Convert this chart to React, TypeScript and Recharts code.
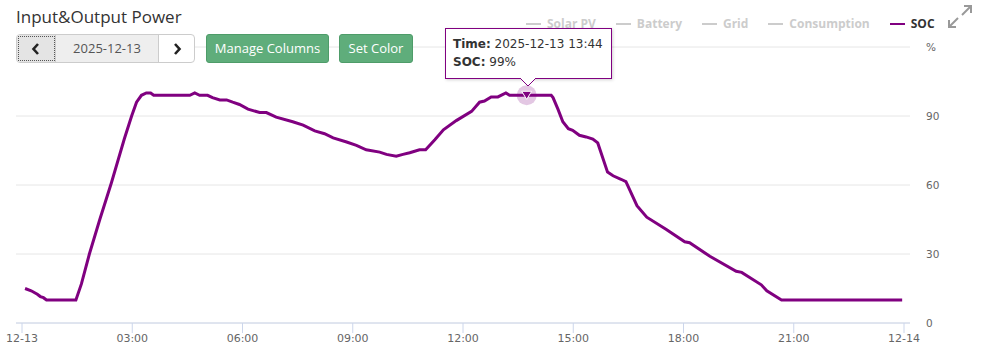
import React from 'react';
import { LineChart, Line, XAxis, YAxis, CartesianGrid, Tooltip, Legend } from 'recharts';

// SOC readings for the day (time -> %)
const times = [
  '00:05', '00:15', '00:25', '00:30', '00:35', '00:40', '01:28', '01:37', '01:50', '02:07',
  '02:26', '02:47', '02:59', '03:07', '03:15', '03:23', '03:30', '03:35', '04:34', '04:42',
  '04:50', '05:03', '05:11', '05:23', '05:34', '05:44', '05:55', '06:09', '06:28', '06:39',
  '06:55', '07:22', '07:39', '07:58', '08:14', '08:28', '08:50', '09:06', '09:22', '09:44',
  '09:55', '10:11', '10:22', '10:33', '10:49', '10:59', '11:14', '11:28', '11:49', '12:14',
  '12:27', '12:35', '12:46', '12:57', '13:10', '13:16', '13:44', '14:24', '14:27', '14:35',
  '14:43', '14:52', '14:59', '15:10', '15:21', '15:32', '15:40', '15:56', '16:05', '16:18',
  '16:26', '16:44', '17:00', '17:32', '18:02', '18:10', '18:43', '19:26', '19:35', '20:07',
  '20:16', '20:40', '23:57',
];
const socValues = [
  15, 14, 12.5, 11.5, 11, 10, 10, 17, 30, 45,
  61, 80, 90, 96, 99, 100, 100, 99, 99, 100,
  99, 99, 98, 97, 97, 96, 95, 93, 91.5, 91.5,
  89.5, 87.5, 86, 83.5, 82.3, 80.5, 78.7, 77.2, 75.3, 74.3,
  73.3, 72.5, 73.3, 74, 75.3, 75.3, 79.7, 84, 88, 92,
  96, 96.5, 98.3, 98.3, 100, 99, 99, 99, 98, 93,
  87.5, 84.5, 83.8, 81.6, 80.9, 80, 78.3, 65.6, 64, 62.5,
  61.5, 51, 46, 40.7, 35.3, 34.9, 29, 22.5, 22, 16.6,
  14, 10, 10,
];

const xTicks = [0, 3, 6, 9, 12, 15, 18, 21, 24];
const yTicks = [0, 30, 60, 90, 120];
const legendNames = ['Solar PV', 'Battery', 'Grid', 'Consumption', 'SOC'];
const activeSeries = 'SOC';
const chartDate = '2025-12-13';
const dayStartLabel = '12-13';
const dayEndLabel = '12-14';
const tooltipTime = '13:44';

const SOC_COLOR = '#800080';

const toHours = (t: string) => {
  const [h, m] = t.split(':').map(Number);
  return h + m / 60;
};

const data = times.map((t, i) => ({ hour: toHours(t), time: t, soc: socValues[i] }));
const tooltipIndex = times.indexOf(tooltipTime);

const formatX = (v: number) => {
  if (v === 0) return dayStartLabel;
  if (v === 24) return dayEndLabel;
  return `${String(v).padStart(2, '0')}:00`;
};

const SocTooltip = ({ active, payload }: any) => {
  if (!active || !payload || !payload.length) return null;
  const p = payload[0].payload;
  return (
    <div
      style={{
        position: 'relative',
        width: 167,
        height: 51,
        background: '#fff',
        border: `1px solid ${SOC_COLOR}`,
        boxShadow: '1px 1px 3px rgba(0,0,0,0.18)',
        fontFamily: '"DejaVu Sans", sans-serif',
        fontSize: 12,
        color: '#333',
        padding: '6px 0 0 7px',
        boxSizing: 'border-box',
        lineHeight: '18px',
        whiteSpace: 'nowrap',
      }}
    >
      <div>
        <b>Time:</b> {chartDate} {p.time}
      </div>
      <div>
        <b>SOC:</b> {Math.round(p.soc)}%
      </div>
      <svg
        width={16}
        height={9}
        style={{ position: 'absolute', left: 74, bottom: -9 }}
      >
        <path d="M0,0 L8,8 L16,0" fill="#fff" stroke={SOC_COLOR} strokeWidth={1} />
        <rect x={1} y={-1} width={14} height={1.5} fill="#fff" />
      </svg>
    </div>
  );
};

const ActiveMarker = (props: any) => {
  const { cx, cy } = props;
  return (
    <g>
      <circle cx={cx} cy={cy} r={10} fill={SOC_COLOR} fillOpacity={0.22} />
      <path
        d={`M${cx - 5},${cy - 4} L${cx + 5},${cy - 4} L${cx},${cy + 4} Z`}
        fill={SOC_COLOR}
        stroke="#fff"
        strokeWidth={1}
      />
    </g>
  );
};

const LegendRow = () => (
  <div style={{ display: 'flex', alignItems: 'center', fontFamily: '"Open Sans", sans-serif', fontSize: 12, fontWeight: 700 }}>
    {legendNames.map((name) => {
      const on = name === activeSeries;
      return (
        <div key={name} style={{ display: 'flex', alignItems: 'center', marginRight: 20 }}>
          <span
            style={{
              display: 'inline-block',
              width: 15,
              height: 2,
              background: on ? SOC_COLOR : '#ccc',
              marginRight: 6,
            }}
          />
          <span style={{ color: on ? '#333' : '#ccc' }}>{name}</span>
        </div>
      );
    })}
  </div>
);

const Chevron = ({ dir }: { dir: 'left' | 'right' }) => (
  <svg width={10} height={12} viewBox="0 0 10 12">
    <path
      d={dir === 'left' ? 'M7,1 L2.5,6 L7,11' : 'M3,1 L7.5,6 L3,11'}
      fill="none"
      stroke="#222"
      strokeWidth={2.6}
    />
  </svg>
);

const greenBtn: React.CSSProperties = {
  position: 'absolute',
  top: 34,
  height: 29,
  background: '#5fad7b',
  border: '1px solid #4e9c69',
  borderRadius: 3,
  color: '#fff',
  fontFamily: '"Open Sans", sans-serif',
  fontSize: 13,
  lineHeight: '27px',
  textAlign: 'center',
  boxSizing: 'border-box',
  zIndex: 5,
};

export default function App() {
  return (
    <div style={{ position: 'relative', width: 981, height: 359, background: '#fff', overflow: 'hidden' }}>
      <style>{'body{margin:0}'}</style>
      <div
        style={{
          position: 'absolute',
          left: 16,
          top: 5,
          fontFamily: '"Open Sans", sans-serif',
          fontSize: 17,
          color: '#333',
          lineHeight: '24px',
          zIndex: 5,
        }}
      >
        Input&amp;Output Power
      </div>

      {/* date picker */}
      <div
        style={{
          position: 'absolute',
          left: 16,
          top: 34,
          width: 179,
          height: 29,
          border: '1px solid #ccc',
          borderRadius: 4,
          boxSizing: 'border-box',
          display: 'flex',
          overflow: 'hidden',
          background: '#fff',
          zIndex: 5,
          fontFamily: '"Open Sans", sans-serif',
          fontSize: 13,
          color: '#555',
        }}
      >
        <div
          style={{
            width: 38,
            background: '#e4e4e4',
            outline: '1px dotted #555',
            outlineOffset: -2,
            display: 'flex',
            alignItems: 'center',
            justifyContent: 'center',
            borderRight: '1px solid #ccc',
          }}
        >
          <Chevron dir="left" />
        </div>
        <div style={{ width: 102, background: '#eee', textAlign: 'center', lineHeight: '27px', borderRight: '1px solid #ccc' }}>
          {chartDate}
        </div>
        <div style={{ flex: 1, display: 'flex', alignItems: 'center', justifyContent: 'center' }}>
          <Chevron dir="right" />
        </div>
      </div>
      <div style={{ ...greenBtn, left: 206, width: 123 }}>Manage Columns</div>
      <div style={{ ...greenBtn, left: 339, width: 74 }}>Set Color</div>

      {/* expand icon */}
      <svg width={28} height={28} style={{ position: 'absolute', left: 946, top: 3, zIndex: 5 }}>
        <g stroke="#999" strokeWidth={2} fill="none">
          <path d="M16,12 L25,3" />
          <path d="M18,3 L25,3 L25,10" />
          <path d="M3,24 L12,15" />
          <path d="M3,17 L3,24 L10,24" />
        </g>
      </svg>

      <div style={{ position: 'absolute', left: 0, top: 0 }}>
        <LineChart width={981} height={359} data={data} margin={{ top: 47, right: 21, left: 16, bottom: 0 }}>
          <CartesianGrid horizontal vertical={false} stroke="#e6e6e6" />
          <XAxis
            dataKey="hour"
            type="number"
            domain={[0, 24]}
            ticks={xTicks}
            interval={0}
            tickFormatter={formatX}
            padding={{ left: 6, right: 6 }}
            stroke="#ccd6eb"
            tickSize={10}
            tickMargin={1}
            height={36}
            tick={{ fill: '#666', fontSize: 11, fontFamily: '"DejaVu Sans", sans-serif' }}
          />
          <YAxis
            orientation="right"
            domain={[0, 120]}
            ticks={yTicks}
            interval={0}
            axisLine={false}
            tickLine={false}
            tickSize={6}
            tickMargin={10}
            width={50}
            tickFormatter={(v: number) => (v === 120 ? '%' : String(v))}
            tick={{ fill: '#666', fontSize: 10.5, fontFamily: '"DejaVu Sans", sans-serif', textAnchor: 'start' }}
          />
          <Legend
            layout="vertical"
            align="center"
            verticalAlign="middle"
            content={() => <LegendRow />}
            wrapperStyle={{ top: 15, left: 526, width: 440, height: 18 }}
          />
          <Tooltip
            content={<SocTooltip />}
            defaultIndex={tooltipIndex}
            active
            cursor={false}
            isAnimationActive={false}
            position={{ x: 445, y: 28 }}
            allowEscapeViewBox={{ x: true, y: true }}
            wrapperStyle={{ zIndex: 10, transition: 'none', outline: 'none' }}
          />
          <Line
            type="linear"
            dataKey="soc"
            name="SOC"
            stroke={SOC_COLOR}
            strokeWidth={3}
            dot={false}
            activeDot={<ActiveMarker />}
            isAnimationActive={false}
          />
        </LineChart>
      </div>
    </div>
  );
}
